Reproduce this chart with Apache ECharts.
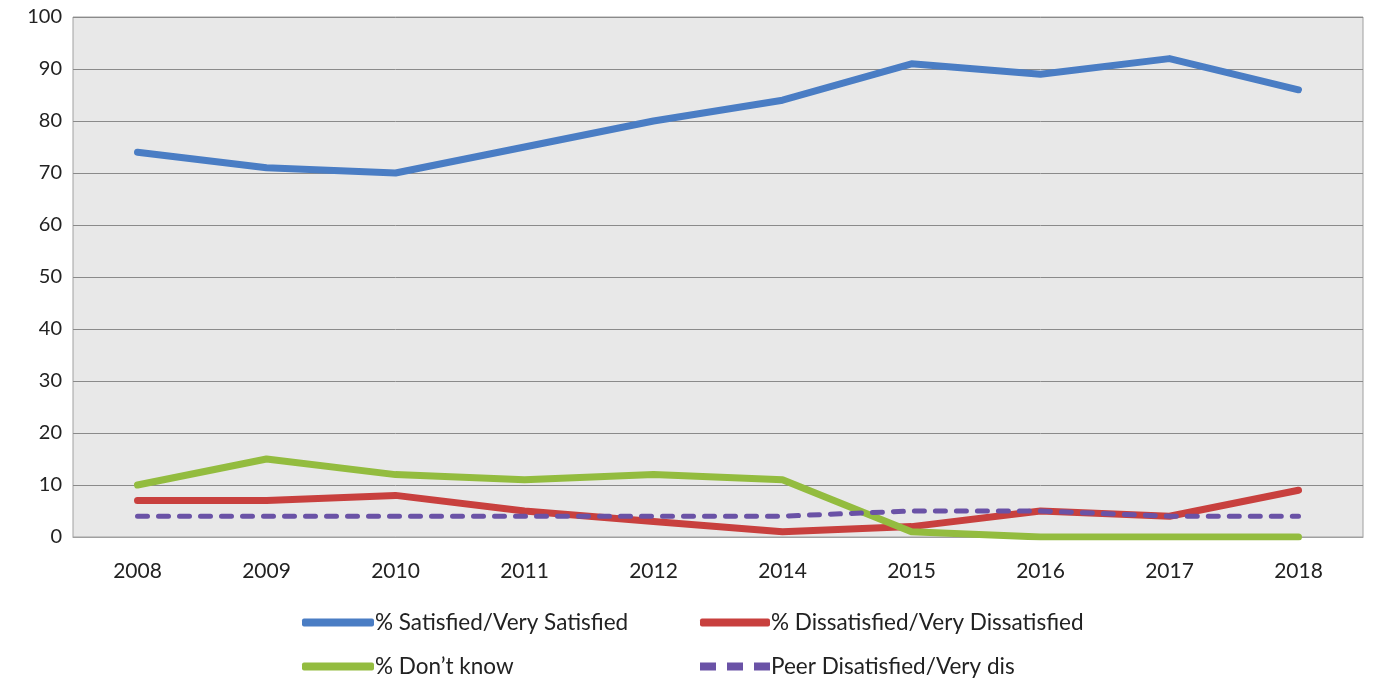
<!DOCTYPE html>
<html>
<head>
<meta charset="utf-8">
<script src="https://cdn.jsdelivr.net/npm/echarts@6/dist/echarts.min.js"></script>
<style>
  html, body { margin: 0; padding: 0; background: #fff; }
  #chart { width: 1373px; height: 684px; }
</style>
</head>
<body>
<div id="chart"></div>
<script>
// Survey years (no 2013 survey)
const years = ['2008', '2009', '2010', '2011', '2012', '2014', '2015', '2016', '2017', '2018'];

// Percentages per year
const satisfied    = [74, 71, 70, 75, 80, 84, 91, 89, 92, 86];
const dissatisfied = [7, 7, 8, 5, 3, 1, 2, 5, 4, 9];
const dontKnow     = [10, 15, 12, 11, 12, 11, 1, 0, 0, 0];
const peerDissat   = [4, 4, 4, 4, 4, 4, 5, 5, 4, 4];

const seriesNames = [
  '% Satisfied/Very Satisfied',
  '% Dissatisfied/Very Dissatisfied',
  '% Don\u2019t know',
  'Peer Disatisfied/Very dis'
];

const FONT = 'Lato, "Liberation Sans", sans-serif';
const chart = echarts.init(document.getElementById('chart'), null, { renderer: 'canvas' });

function lineSeries(name, data, color, dash) {
  return {
    name: name,
    type: 'line',
    data: data,
    showSymbol: false,
    symbol: 'none',
    smooth: false,
    lineStyle: { width: dash ? 5 : 7, color: color, type: dash || 'solid', cap: 'round', join: 'round' },
    itemStyle: { color: color },
    emphasis: { disabled: true }
  };
}

// Three short bars for the dashed series' legend key
const dashIcon = 'path://M0,0h16v8h-16z M27,0h16v8h-16z M54,0h16v8h-16z';

const legendText = { fontFamily: FONT, fontSize: 22.5, color: '#222', padding: [0, 0, 0, -4] };

chart.setOption({
  animation: false,
  backgroundColor: '#ffffff',
  grid: {
    left: 73, right: 10, top: 17, bottom: 147,
    show: true, backgroundColor: '#e8e8e8', borderColor: '#a0a0a0', borderWidth: 1
  },
  xAxis: {
    type: 'category',
    data: years,
    boundaryGap: true,
    axisLine: { show: true, lineStyle: { color: '#a0a0a0' } },
    axisTick: { show: false },
    axisLabel: { fontFamily: FONT, fontSize: 21, color: '#222', margin: 24 }
  },
  yAxis: {
    type: 'value',
    min: 0, max: 100, interval: 10,
    axisLine: { show: false },
    axisTick: { show: false },
    axisLabel: { fontFamily: FONT, fontSize: 20, color: '#222', margin: 11 },
    splitLine: { lineStyle: { color: '#8a8a8a', width: 1 } }
  },
  legend: [
    {
      left: 302, top: 611, orient: 'vertical', itemGap: 21, padding: 0,
      itemWidth: 72, itemHeight: 8,
      data: [
        { name: seriesNames[0], icon: 'roundRect' },
        { name: seriesNames[2], icon: 'roundRect' }
      ],
      textStyle: legendText
    },
    {
      left: 700, top: 611, orient: 'vertical', itemGap: 21, padding: 0,
      itemWidth: 70, itemHeight: 8,
      data: [
        { name: seriesNames[1], icon: 'roundRect' },
        { name: seriesNames[3], icon: dashIcon }
      ],
      textStyle: legendText
    }
  ],
  series: [
    lineSeries(seriesNames[0], satisfied, '#4a7dc4'),
    lineSeries(seriesNames[1], dissatisfied, '#c8403e'),
    lineSeries(seriesNames[2], dontKnow, '#93bc3f'),
    lineSeries(seriesNames[3], peerDissat, '#6a52a6', [10, 11])
  ]
});
</script>
</body>
</html>
